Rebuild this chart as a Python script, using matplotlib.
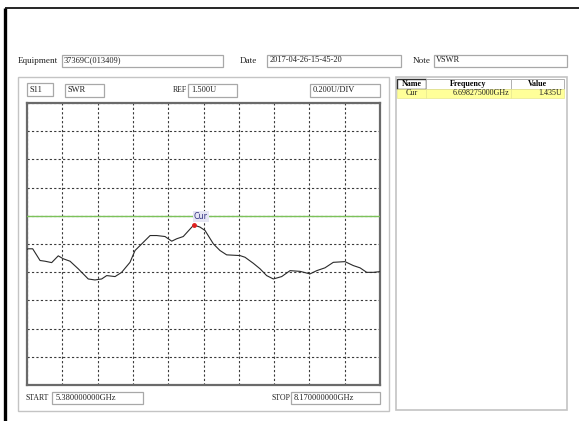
import matplotlib
matplotlib.use("Agg")
import matplotlib.pyplot as plt
from matplotlib.patches import Rectangle
import numpy as np

# ---------------- data ----------------
freq_ghz = [5.380, 5.390, 5.425, 5.483, 5.522, 5.575, 5.627, 5.667, 5.720, 5.785,
            5.864, 5.917, 5.970, 6.010, 6.076, 6.128, 6.194, 6.234, 6.287, 6.353,
            6.405, 6.471, 6.524, 6.563, 6.615, 6.698, 6.747, 6.787, 6.853, 6.905,
            6.958, 7.063, 7.103, 7.169, 7.222, 7.274, 7.327, 7.393, 7.459, 7.538,
            7.617, 7.670, 7.735, 7.801, 7.893, 7.959, 8.012, 8.065, 8.117, 8.170]
swr_values = [1.262, 1.266, 1.266, 1.183, 1.178, 1.168, 1.216, 1.195, 1.178, 1.124,
              1.052, 1.045, 1.052, 1.076, 1.069, 1.099, 1.170, 1.254, 1.301, 1.360,
              1.360, 1.353, 1.320, 1.337, 1.353, 1.435, 1.420, 1.396, 1.301, 1.254,
              1.223, 1.218, 1.206, 1.163, 1.124, 1.076, 1.052, 1.069, 1.111, 1.106,
              1.088, 1.111, 1.131, 1.170, 1.175, 1.147, 1.131, 1.099, 1.099, 1.104]

start_ghz = 5.38
stop_ghz = 8.17
ref_value = 1.5
per_div = 0.2
ref_div_from_top = 4
n_div = 10

marker_name = "Cur"
marker_freq = 6.698275
marker_value = 1.435

equipment = "37369C(013409)"
date_text = "2017-04-26-15-45-20"
note_text = "VSWR"
param_text = "S11"
format_text = "SWR"
ref_text = "1.500U"
div_text = "0.200U/DIV"
start_text = "5.380000000GHz"
stop_text = "8.170000000GHz"
table_headers = ["Name", "Frequency", "Value"]
table_row = ["Cur", "6.698275000GHz", "1.435U"]

# ---------------- figure ----------------
W, H = 579, 421
fig = plt.figure(figsize=(W / 100, H / 100), dpi=100)
fig.patch.set_facecolor("white")

bg = fig.add_axes([0, 0, 1, 1])
bg.set_xlim(0, W)
bg.set_ylim(H, 0)
bg.axis("off")

FONT = "Liberation Serif"
FS = 6.6
FSB = 6.0
FSS = 5.6

def box(x0, y0, x1, y1, ec="#a8a8a8", fc="white", lw=0.9, z=1):
    bg.add_patch(Rectangle((x0, y0), x1 - x0, y1 - y0, fill=True, fc=fc,
                           ec=ec, lw=lw, zorder=z))

def txt(x, y, s, ha="left", size=FS, weight="normal", color="#202020", z=3):
    bg.text(x, y, s, ha=ha, va="center", fontsize=size, family=FONT,
            weight=weight, color=color, zorder=z)

# outer black frame
bg.plot([5, 5], [8, H], color="black", lw=2.4, solid_capstyle="butt", zorder=5)
bg.plot([5, W], [8, 8], color="black", lw=1.2, solid_capstyle="butt", zorder=5)

# top info row
txt(18, 61, "Equipment")
box(62, 55, 223, 67)
txt(64, 60.5, equipment, size=FSB)
txt(240, 61, "Date")
box(267, 55, 401, 67)
txt(270, 60.5, date_text, size=FSB)
txt(413, 61, "Note")
box(434, 55, 567, 67)
txt(436, 60.5, note_text, size=FSB)

# left group panel
box(18, 77, 389, 411, ec="#c4c4c4", fc="white", lw=1.0)
# right table panel
box(396, 77, 567, 410, ec="#c4c4c4", fc="white", lw=1.2)

# header boxes above plot
box(27, 83, 53, 96)
txt(30, 89.5, param_text, size=FSB)
box(65, 84, 104, 97)
txt(68, 90, format_text, size=FSB)
txt(173, 90, "REF", size=FSS)
box(188, 84, 237, 97)
txt(191, 90, ref_text, size=FSB)
box(310, 84, 380, 97)
txt(313, 90, div_text, size=FSB)

# bottom start/stop
txt(26, 398, "START", size=FSS)
box(52, 392, 143, 404)
txt(56, 398, start_text, size=FSB)
txt(271, 398, "STOP", size=FSS)
box(291, 392, 380, 404)
txt(294, 398, stop_text, size=FSB)

# table
col_edges = [397, 426, 511, 564]
hy0, hy1, ry1 = 79, 88.5, 98
for i in range(3):
    box(col_edges[i], hy0, col_edges[i + 1], hy1,
        ec="#303030" if i == 0 else "#b0b0b0", fc="white", lw=1.0 if i == 0 else 0.7, z=2)
    box(col_edges[i], hy1, col_edges[i + 1], ry1, ec="#e8e890", fc="#ffff99", lw=0.5, z=2)
for i, h in enumerate(table_headers):
    txt((col_edges[i] + col_edges[i + 1]) / 2, (hy0 + hy1) / 2 + 0.3, h,
        ha="center", size=5.8, weight="bold", color="black")
txt((col_edges[0] + col_edges[1]) / 2, (hy1 + ry1) / 2, table_row[0], ha="center", size=5.8)
txt(col_edges[2] - 2, (hy1 + ry1) / 2, table_row[1], ha="right", size=5.8)
txt(col_edges[3] - 2, (hy1 + ry1) / 2, table_row[2], ha="right", size=5.8)

# ---------------- plot area ----------------
px0, py0, px1, py1 = 27, 103, 380, 385
ax = fig.add_axes([px0 / W, 1 - py1 / H, (px1 - px0) / W, (py1 - py0) / H])
top = ref_value + ref_div_from_top * per_div
bottom = top - n_div * per_div
ax.set_xlim(start_ghz, stop_ghz)
ax.set_ylim(bottom, top)
ax.set_xticks(np.linspace(start_ghz, stop_ghz, n_div + 1))
ax.set_yticks(np.linspace(bottom, top, n_div + 1))
ax.tick_params(length=0, labelbottom=False, labelleft=False)
ax.grid(True, color="#3a3a3a", lw=0.8, linestyle=(0, (2, 2)))
for s in ax.spines.values():
    s.set_color("#6a6a6a")
    s.set_linewidth(1.6)

ax.axhline(ref_value, color="#7cc25a", lw=1.0, zorder=3)
ax.plot(freq_ghz, swr_values, color="#2a2a2a", lw=0.8, zorder=4)
ax.plot([marker_freq], [marker_value], "o", color="#e02020", ms=2.5, zorder=5)
ax.annotate(marker_name, (marker_freq, marker_value), xytext=(0, 3),
            textcoords="offset points", ha="left", va="bottom",
            fontsize=5.8, color="#303080", family="DejaVu Sans", zorder=6,
            bbox=dict(boxstyle="square,pad=0.15", fc="#e6e6f4", ec="none"))

fig.savefig("out.png", dpi=100, facecolor="white")
